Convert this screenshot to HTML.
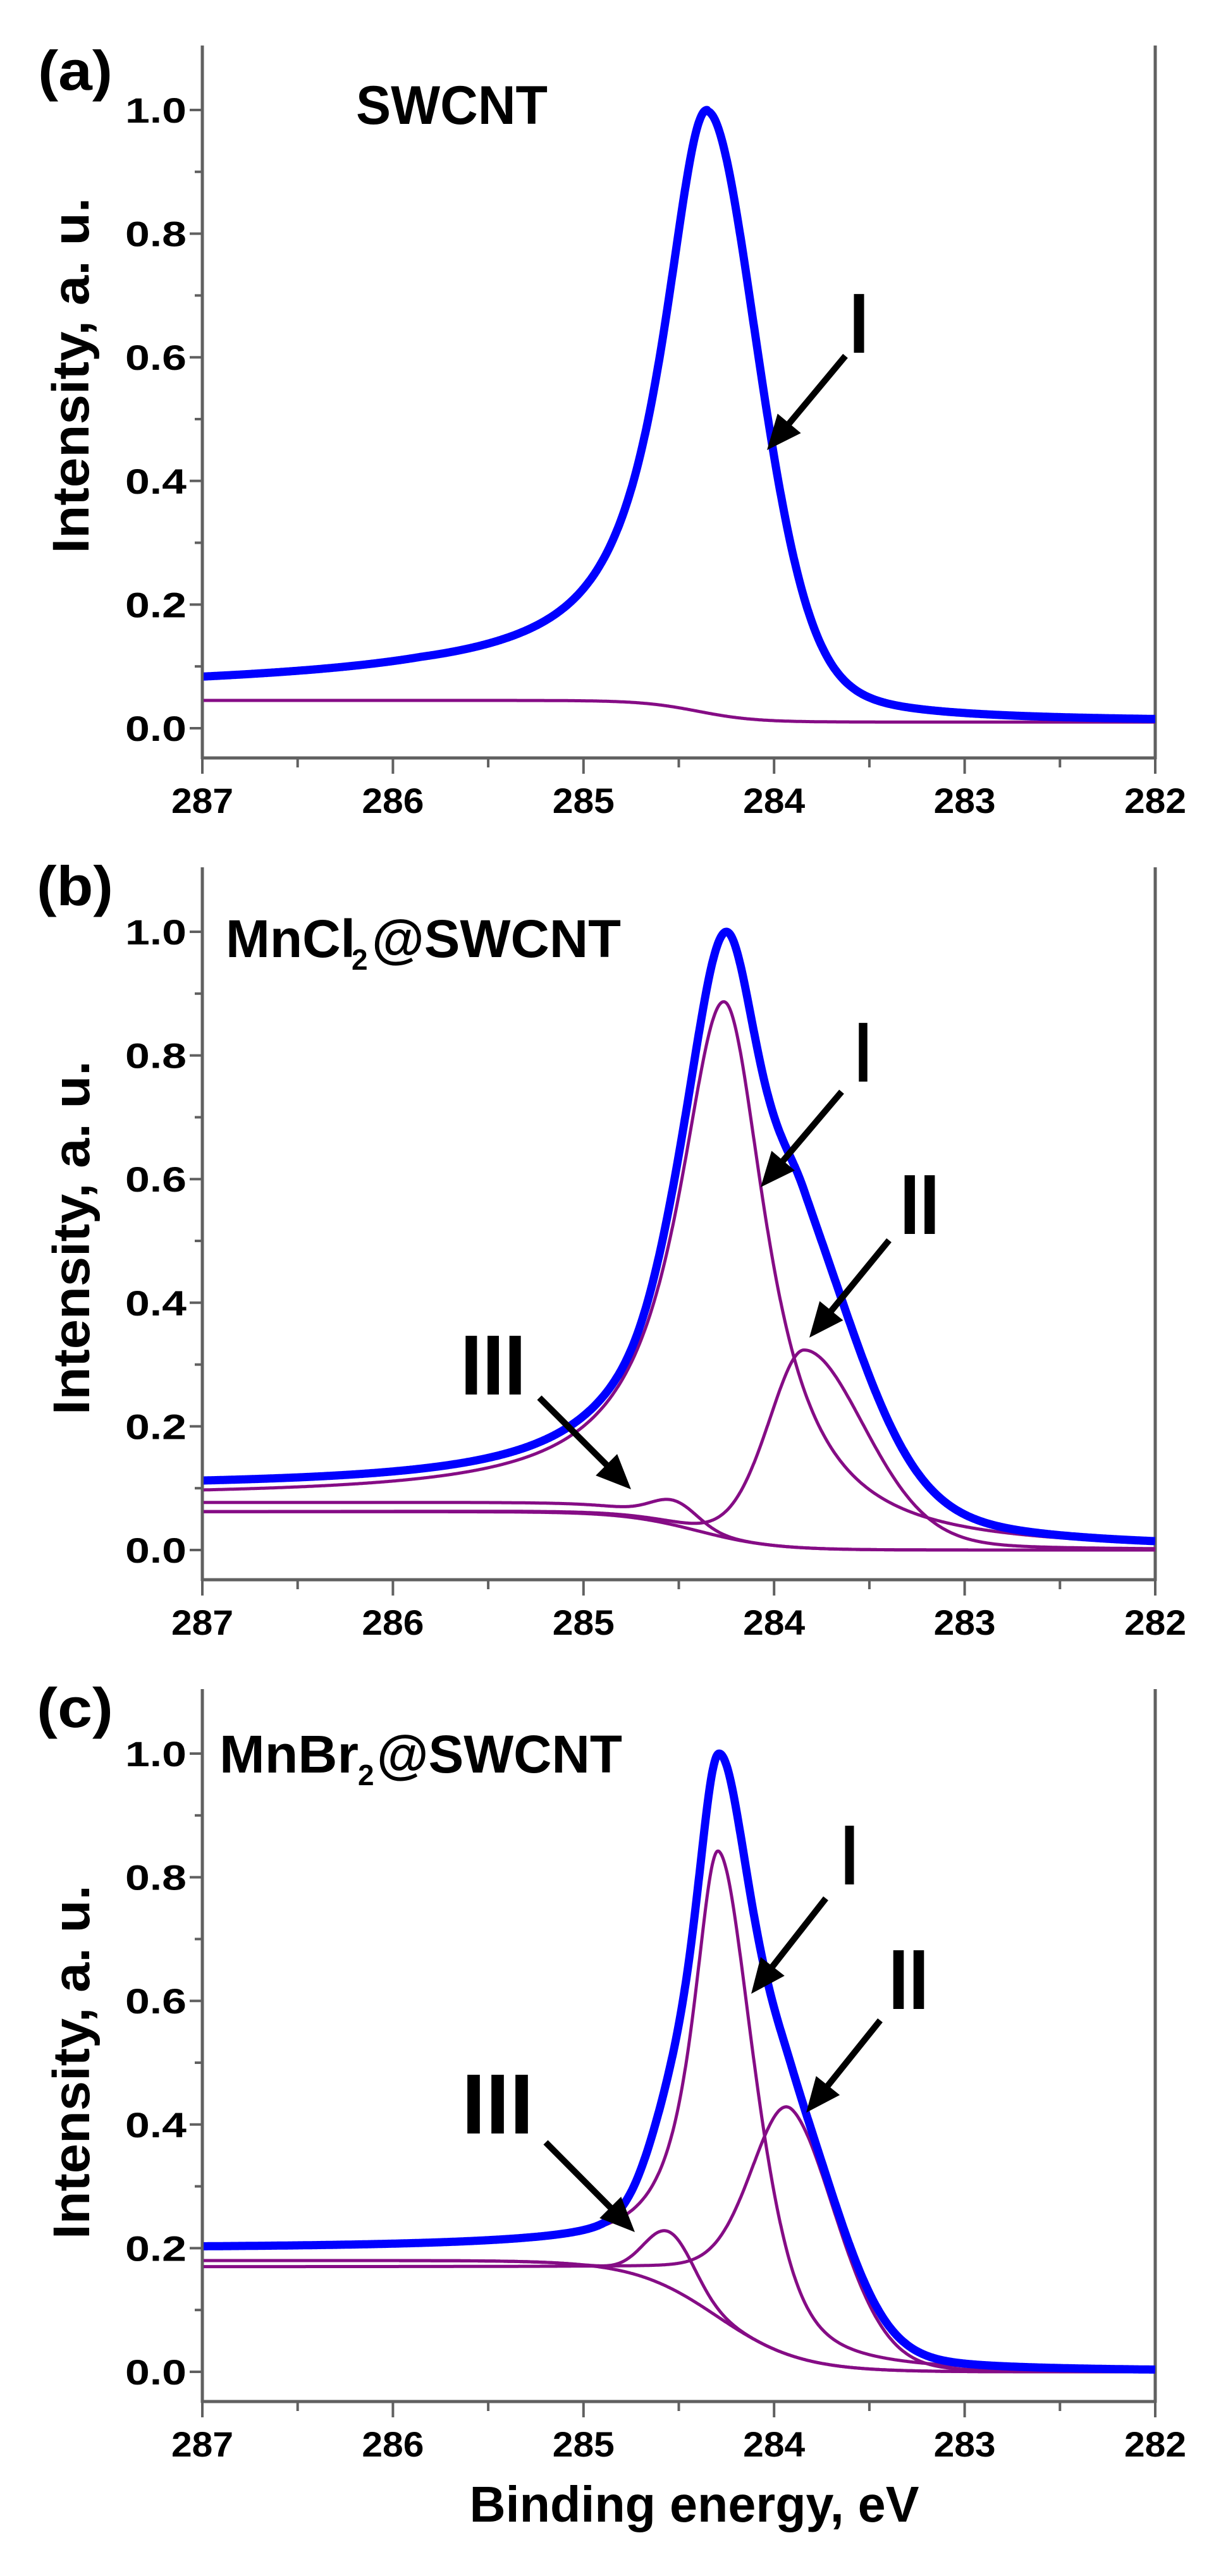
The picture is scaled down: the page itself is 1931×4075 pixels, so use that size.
<!DOCTYPE html>
<html><head><meta charset="utf-8"><style>
html,body{margin:0;padding:0;background:#fff;}
svg{display:block;}
text{font-family:"Liberation Sans",sans-serif;font-weight:bold;fill:#000;}
</style></head><body>
<svg id="s" width="1931" height="4075" viewBox="0 0 1931 4075" xmlns="http://www.w3.org/2000/svg">
<defs><clipPath id="cp"><rect x="322" y="0" width="1505" height="4075"/></clipPath></defs>
<g id="static">
<text x="60" y="142" font-size="88" textLength="118" lengthAdjust="spacingAndGlyphs">(a)</text>
<text x="58" y="1432" font-size="88" textLength="121" lengthAdjust="spacingAndGlyphs">(b)</text>
<text x="58" y="2732" font-size="88" textLength="121" lengthAdjust="spacingAndGlyphs">(c)</text>
<text x="563" y="196" font-size="86" textLength="303" lengthAdjust="spacingAndGlyphs">SWCNT</text>
<text x="357" y="1514" font-size="84" textLength="205" lengthAdjust="spacingAndGlyphs">MnCl</text>
<text x="556" y="1534" font-size="46">2</text>
<text x="588" y="1514" font-size="84" textLength="394" lengthAdjust="spacingAndGlyphs">@SWCNT</text>
<text x="347" y="2804" font-size="84" textLength="220" lengthAdjust="spacingAndGlyphs">MnBr</text>
<text x="566" y="2824" font-size="46">2</text>
<text x="596" y="2804" font-size="84" textLength="388" lengthAdjust="spacingAndGlyphs">@SWCNT</text>
<text transform="translate(140,594) rotate(-90)" text-anchor="middle" font-size="82" textLength="563" lengthAdjust="spacingAndGlyphs">Intensity, a. u.</text>
<text transform="translate(141,1958) rotate(-90)" text-anchor="middle" font-size="82" textLength="560" lengthAdjust="spacingAndGlyphs">Intensity, a. u.</text>
<text transform="translate(141,3262) rotate(-90)" text-anchor="middle" font-size="82" textLength="560" lengthAdjust="spacingAndGlyphs">Intensity, a. u.</text>
<text x="1098" y="3989" text-anchor="middle" font-size="80" textLength="711" lengthAdjust="spacingAndGlyphs">Binding energy, eV</text>
</g>
<g id="dyn"></g>
</svg>
<script>
(function(){
var NS="http://www.w3.org/2000/svg";
var dyn=document.getElementById('dyn');
function el(t,a,txt){var e=document.createElementNS(NS,t);for(var k in a)e.setAttribute(k,a[k]);if(txt!==undefined)e.textContent=txt;dyn.appendChild(e);return e;}
function X(e){return 320+(287-e)*301.4;}
function sig(z){return 1/(1+Math.exp(-z));}
function L(d,g){return 1/(1+(d/g)*(d/g));}
function G(d,s){return Math.exp(-d*d/(2*s*s));}
function side(d,p){return p.eta*L(d,p.g)+(1-p.eta)*G(d,p.s);}
function pk(x,c,A,l,r){var d=Math.abs(x-c);return A*(x>=c?side(d,l):side(d,r));}
var xs=[];for(var e=287.0;e>=281.999;e-=0.004)xs.push(e);
function path(off,f){var s="";for(var i=0;i<xs.length;i++){var v=f(xs[i]);var y=off+1152-v*978;s+=(i?"L":"M")+X(xs[i]).toFixed(1)+","+y.toFixed(1);}return s;}
function draw(off,f,col,w){el('path',{d:path(off,f),fill:'none',stroke:col,'stroke-width':w,'stroke-linejoin':'round','clip-path':'url(#cp)'});}
function envFix(f){var m=-1,xm=0;xs.forEach(function(x){var v=f(x);if(v>m){m=v;xm=x;}});return function(x){return f(x)+(1-m)*G(x-xm,0.16);};}
var P='#850c85',Bl='#0000ff';
function axes(off){
 var g='#606060';
 el('line',{x1:320,y1:off+72,x2:320,y2:off+1201,stroke:g,'stroke-width':5});
 el('line',{x1:1827,y1:off+72,x2:1827,y2:off+1201,stroke:g,'stroke-width':5});
 el('line',{x1:318,y1:off+1199,x2:1829,y2:off+1199,stroke:g,'stroke-width':5});
 for(var i=0;i<=10;i++){var v=i/10,y=off+1152-v*978,maj=(i%2==0);
  el('line',{x1:maj?300:308,y1:y,x2:320,y2:y,stroke:g,'stroke-width':4});
  if(maj)el('text',{x:295,y:y+20,'text-anchor':'end','font-size':56,textLength:97,lengthAdjust:'spacingAndGlyphs'},v.toFixed(1));}
 for(var k=0;k<=10;k++){var e=287-k*0.5,x=X(e),maj=(k%2==0);
  el('line',{x1:x,y1:off+1199,x2:x,y2:off+(maj?1224:1214),stroke:g,'stroke-width':4});
  if(maj)el('text',{x:x,y:off+1286,'text-anchor':'middle','font-size':56,textLength:98,lengthAdjust:'spacingAndGlyphs'},String(e));}
}
function arrow(x1,y1,x2,y2){var dx=x2-x1,dy=y2-y1,l=Math.sqrt(dx*dx+dy*dy),ux=dx/l,uy=dy/l,hl=55,hw=24;
 var bx=x2-ux*hl,by=y2-uy*hl;
 el('line',{x1:x1,y1:y1,x2:bx+ux*5,y2:by+uy*5,stroke:'#000','stroke-width':10});
 el('polygon',{points:x2+','+y2+' '+(bx-uy*hw)+','+(by+ux*hw)+' '+(bx+uy*hw)+','+(by-ux*hw),fill:'#000'});}
function roman(t,x1,x2,yb){el('text',{x:x1,y:yb,'font-size':135,textLength:(x2-x1),lengthAdjust:'spacingAndGlyphs'},t);}

axes(0);
(function(){var off=0;
 var B=function(x){return 0.01+0.035*sig((x-284.4)/0.15);};
 var I=function(x){var d=x-284.35;var t=d>0?0.036*Math.exp(-Math.max(0,d-1.5)/4)*sig((d-0.6)/0.2):0;
   return pk(x,284.35,0.972,{eta:1,g:0.29,s:1},{eta:0.3,g:0.31,s:0.273})+t;};
 draw(off,B,P,5);
 draw(off,envFix(function(x){return B(x)+I(x);}),Bl,13);
 arrow(1337,563,1213,712);roman('I',1343,1374,558);
})();
axes(1300);
(function(){var off=1300;
 var B=function(x){return 0.062*sig((x-284.4)/0.2);};
 var I=function(x){return pk(x,284.26,0.86,{eta:1,g:0.3,s:1},{eta:1,g:0.27,s:1})+0.025*sig((x-284.6)/0.3);};
 var II=function(x){return pk(x,283.84,0.32,{eta:0.2,g:0.2,s:0.2},{eta:0.2,g:0.35,s:0.33});};
 var III=function(x){return 0.035*G(x-284.52,0.12)+0.015*sig((x-284.6)/0.1);};
 draw(off,B,P,5);
 draw(off,function(x){return B(x)+III(x);},P,5);
 draw(off,function(x){return B(x)+II(x);},P,5);
 draw(off,function(x){return B(x)+I(x);},P,5);
 draw(off,envFix(function(x){return B(x)+I(x)+II(x)+III(x);}),Bl,13);
 arrow(1331,1727,1203,1878);roman('I',1352,1378,1711);
 arrow(1406,1962,1280,2116);roman('II',1423,1486,1952);
 arrow(853,2211,998,2356);roman('III',728,832,2206);
})();
axes(2600);
(function(){var off=2600;
 var B=function(x){return 0.18*sig((x-284.3)/0.22);};
 var B2=function(x){return 0.17*sig((x-283.85)/0.12);};
 var I=function(x){return pk(x,284.29,0.75,{eta:1,g:0.17,s:1},{eta:0.5,g:0.2,s:0.2})+0.02*sig((x-284.7)/0.3);};
 var II=function(x){return pk(x,283.9,0.32,{eta:0.1,g:0.2,s:0.2},{eta:0.1,g:0.3,s:0.26});};
 var III=function(x){return 0.09*G(x-284.55,0.13);};
 draw(off,B,P,5);
 draw(off,function(x){return B(x)+III(x);},P,5);
 draw(off,function(x){return B2(x)+II(x);},P,5);
 draw(off,function(x){return B(x)+I(x);},P,5);
 draw(off,envFix(function(x){return B(x)+I(x)+II(x)+III(x);}),Bl,13);
 arrow(1306,3003,1188,3154);roman('I',1330,1357,2981);
 arrow(1392,3196,1275,3342);roman('II',1405,1469,3178);
 arrow(863,3389,1004,3531);roman('III',730,844,3375);
})();
})();
</script>
</body></html>
